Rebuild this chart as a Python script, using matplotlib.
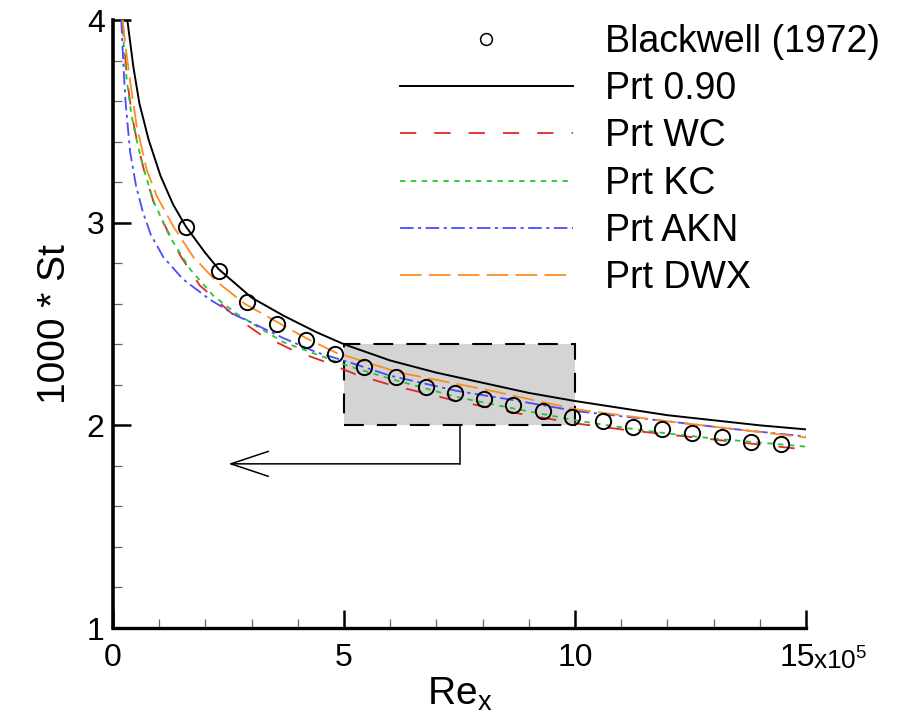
import matplotlib
matplotlib.use("Agg")
import matplotlib.pyplot as plt
from matplotlib.patches import Rectangle
from matplotlib.ticker import MultipleLocator
from matplotlib.lines import Line2D
from matplotlib.transforms import ScaledTranslation

plt.rcParams['font.family'] = ['Liberation Sans', 'DejaVu Sans']
plt.rcParams['mathtext.fontset'] = 'custom'
plt.rcParams['mathtext.rm'] = 'Liberation Sans'
plt.rcParams['mathtext.it'] = 'Liberation Sans'

# ---------------- data (Re_x in units of 1e5, y = 1000*St) ----------------
exp_x = [1.58, 2.29, 2.90, 3.55, 4.18, 4.81, 5.43, 6.13, 6.77, 7.40, 8.03,
         8.66, 9.31, 9.94, 10.61, 11.26, 11.88, 12.53, 13.18, 13.81, 14.46]
exp_y = [2.98, 2.76, 2.61, 2.50, 2.42, 2.35, 2.29, 2.24, 2.19, 2.16, 2.13,
         2.10, 2.07, 2.04, 2.02, 1.99, 1.98, 1.96, 1.94, 1.92, 1.91]

p090_x = [0.0, 0.31, 0.44, 0.57, 0.77, 1.03, 1.30, 1.58, 2.0, 2.29, 3.0, 3.7,
          4.4, 5.0, 6.0, 7.0, 8.0, 9.0, 10.0, 11.0, 12.0, 13.0, 14.0, 15.0]
p090_y = [4.0, 4.0, 3.77, 3.59, 3.41, 3.23, 3.09, 2.98, 2.85, 2.77, 2.63, 2.54,
          2.46, 2.40, 2.32, 2.26, 2.21, 2.16, 2.12, 2.085, 2.05, 2.025, 2.0, 1.98]

wc_x = [0.21, 0.25, 0.31, 0.41, 0.53, 0.67, 0.88, 1.09, 1.45, 1.88, 2.68, 3.18,
        3.90, 4.63, 5.27, 6.0, 7.44, 8.74, 10.0, 11.0, 12.0, 13.0, 14.0, 15.0]
wc_y = [4.0, 3.85, 3.70, 3.53, 3.39, 3.26, 3.10, 3.00, 2.84, 2.69, 2.53, 2.45,
        2.37, 2.31, 2.25, 2.20, 2.12, 2.06, 2.01, 1.98, 1.955, 1.93, 1.905, 1.88]

kc_x = [0.21, 0.24, 0.30, 0.40, 0.52, 0.66, 0.87, 1.23, 1.67, 2.17, 2.68, 3.25,
        3.69, 4.41, 5.13, 6.0, 7.44, 8.52, 10.0, 11.0, 12.0, 13.0, 14.0, 15.0]
kc_y = [4.0, 3.85, 3.70, 3.53, 3.40, 3.27, 3.11, 2.93, 2.77, 2.64, 2.55, 2.47,
        2.41, 2.35, 2.29, 2.23, 2.14, 2.09, 2.025, 1.99, 1.96, 1.935, 1.915, 1.895]

akn_x = [0.18, 0.22, 0.27, 0.37, 0.50, 0.65, 0.82, 1.09, 1.52, 2.10, 2.68, 2.97,
         3.69, 4.41, 5.13, 6.0, 7.44, 8.52, 10.04, 11.0, 12.0, 13.5, 15.0]
akn_y = [4.0, 3.80, 3.60, 3.35, 3.18, 3.05, 2.94, 2.83, 2.72, 2.62, 2.54, 2.51,
         2.43, 2.36, 2.31, 2.245, 2.17, 2.13, 2.07, 2.045, 2.02, 1.98, 1.945]

dwx_x = [0.21, 0.26, 0.37, 0.51, 0.73, 0.95, 1.31, 1.74, 2.24, 2.85, 3.55, 4.18,
         4.81, 5.5, 6.2, 7.1, 8.2, 9.2, 10.0, 11.0, 12.0, 13.5, 15.0]
dwx_y = [4.0, 3.89, 3.70, 3.48, 3.26, 3.13, 2.98, 2.83, 2.71, 2.60, 2.51, 2.43,
         2.36, 2.31, 2.26, 2.22, 2.17, 2.12, 2.08, 2.05, 2.02, 1.98, 1.94]

labels = ['Blackwell (1972)', 'Prt 0.90', 'Prt WC', 'Prt KC', 'Prt AKN', 'Prt DWX']
xtick_vals = [0, 5, 10, 15]
xtick_labels = ['0', '5', '10', '15']
ytick_vals = [1, 2, 3, 4]
ytick_labels = ['1', '2', '3', '4']
box_x = [5.0, 10.0]
box_y = [2.0, 2.4]
arrow_x = [7.5, 2.5]
arrow_y = 1.81

# ---------------- styles ----------------
RED, GREEN, BLUE, ORANGE = '#e02828', '#22c832', '#4a4aff', '#ff8c1e'
LS_WC = (0, (9.0, 10.0))
LS_KC = (0, (3.0, 3.0))
LS_AKN = (0, (7.5, 2.5, 1.7, 2.5))
LS_DWX = (0, (12.0, 4.0))
LW_C = 1.3

# ---------------- figure ----------------
fig = plt.figure(figsize=(9.09, 7.17), dpi=100)
ax = fig.add_axes([113/909, 1-628/717, (806-113)/909, (628-20)/717])

ax.add_patch(Rectangle((box_x[0], box_y[0]), box_x[1]-box_x[0], box_y[1]-box_y[0],
                       facecolor='#d4d4d4', edgecolor='black', lw=1.5,
                       linestyle=(0, (9.5, 6.3)), zorder=0.5))
ax.plot([arrow_x[0], arrow_x[0]], [box_y[0], arrow_y], color='black', lw=1.1, zorder=1)
ax.annotate('', xy=(arrow_x[1], arrow_y), xytext=(arrow_x[0], arrow_y),
            arrowprops=dict(arrowstyle='->,head_length=2.7,head_width=0.9',
                            color='black', lw=1.1, mutation_scale=10,
                            shrinkA=0, shrinkB=0), zorder=1)

ax.plot(p090_x, p090_y, color='black', lw=1.4, zorder=3)
ax.plot(wc_x, wc_y, color=RED, lw=LW_C, linestyle=LS_WC, zorder=3)
ax.plot(kc_x, kc_y, color=GREEN, lw=LW_C, linestyle=LS_KC, zorder=3)
ax.plot(akn_x, akn_y, color=BLUE, lw=LW_C, linestyle=LS_AKN, zorder=3)
ax.plot(dwx_x, dwx_y, color=ORANGE, lw=LW_C, linestyle=LS_DWX, zorder=3)
ax.plot(exp_x, exp_y, linestyle='none', marker='o', markersize=11,
        markerfacecolor='none', markeredgecolor='black', markeredgewidth=1.4, zorder=4)

ax.set_xlim(0, 15)
ax.set_ylim(1, 4)
ax.spines['top'].set_visible(False)
ax.spines['right'].set_visible(False)
ax.spines['left'].set_linewidth(2.6)
ax.spines['bottom'].set_linewidth(2.4)

ax.xaxis.set_minor_locator(MultipleLocator(1))
ax.yaxis.set_minor_locator(MultipleLocator(0.2))
ax.tick_params(which='major', direction='in', length=13, width=1.8)
ax.tick_params(which='minor', direction='in', length=6.5, width=0.9, color='#666666')
ax.tick_params(axis='x', which='major', pad=11)
ax.tick_params(axis='y', which='major', pad=6)
ax.set_xticks(xtick_vals)
ax.set_xticklabels(xtick_labels, fontsize=23)
ax.set_yticks(ytick_vals)
ax.set_yticklabels(ytick_labels, fontsize=23)

# shift the last x tick label slightly left to make room for the multiplier
last = ax.get_xticklabels()[-1]
last.set_transform(last.get_transform() + ScaledTranslation(-9/100, 0, fig.dpi_scale_trans))

fig.text(813/909, 1-670/717, r'x10$^{5}$', fontsize=19, ha='left', va='baseline')

ax.set_xlabel(r'Re$_{\rm x}$', fontsize=28, labelpad=2)
ax.set_ylabel('1000 * St', fontsize=28, labelpad=10)

handles = [Line2D([], [], linestyle='none', marker='o', markersize=8.5,
                  markerfacecolor='none', markeredgecolor='black', markeredgewidth=1.1),
           Line2D([], [], color='black', lw=1.4),
           Line2D([], [], color=RED, lw=LW_C, linestyle=LS_WC),
           Line2D([], [], color=GREEN, lw=LW_C, linestyle=LS_KC),
           Line2D([], [], color=BLUE, lw=LW_C, linestyle=LS_AKN),
           Line2D([], [], color=ORANGE, lw=LW_C, linestyle=LS_DWX)]
fig.legend(handles, labels, loc='upper left', bbox_to_anchor=(400/909, 1-24/717),
           frameon=False, fontsize=27, handlelength=4.61, handletextpad=0.85,
           labelspacing=0.3, borderpad=0, borderaxespad=0)

fig.savefig('out.png', dpi=100)
